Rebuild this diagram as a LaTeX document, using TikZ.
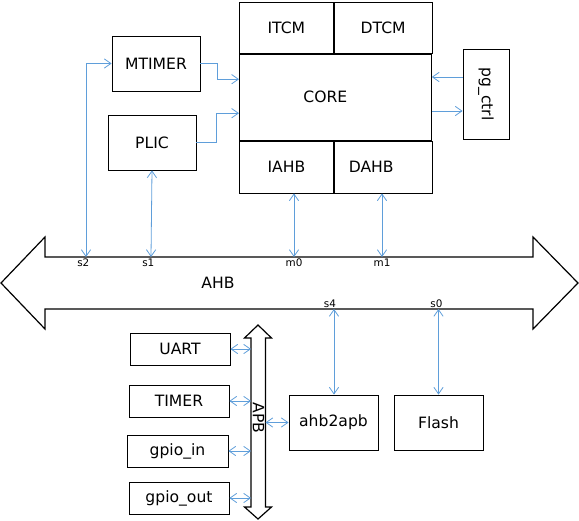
\documentclass[tikz,border=0pt]{standalone}
\usepackage{fontspec}
\setmainfont{DejaVu Sans}
\usetikzlibrary{arrows.meta,positioning}
\definecolor{linkblue}{RGB}{95,158,218}

\begin{document}
\begin{tikzpicture}
	[x=0.75pt, y=-0.75pt,
		>={Straight Barb[length=5pt,width=7pt]},
		blockbox/.style={rectangle, draw=black, line width=0.6pt, inner sep=0pt, font=\fontsize{11.7}{14}\selectfont},
		iobox/.style={blockbox, minimum width=75pt, minimum height=24pt},
		periphbox/.style={blockbox, minimum width=66.75pt, minimum height=41.25pt},
		link/.style={draw=linkblue, line width=0.6pt},
		busline/.style={draw=black, line width=0.9pt, line join=miter},
		portlabel/.style={inner sep=1pt, font=\fontsize{7.8}{9}\selectfont},
		buslabel/.style={font=\fontsize{11.7}{14}\selectfont},
	]
	\useasboundingbox (0,0) rectangle (579,521);

	% core block
	\node[blockbox, minimum width=70.5pt, minimum height=38.25pt, anchor=north west] (itcm) at (239,2) {ITCM};
	\node[blockbox, minimum width=73.5pt, minimum height=38.25pt, right=0pt of itcm] (dtcm) {DTCM};
	\node[blockbox, minimum width=144pt, minimum height=64.5pt, anchor=north west] (core) at (itcm.south west) {};
	\node[buslabel] (coretext) at ([xshift=-7.5pt]core.center) {CORE};
	\node[blockbox, minimum width=70.5pt, minimum height=39pt, anchor=north west] (iahb) at (core.south west) {IAHB};
	\node[blockbox, minimum width=73.5pt, minimum height=39pt, right=0pt of iahb] (dahb) {};
	\node[buslabel] (dahbtext) at ([xshift=-9pt]dahb.center) {DAHB};
	\draw[line width=1.5pt] (core.south west) -- (core.south east);

	\node[blockbox, minimum width=66pt, minimum height=41.25pt] (mtimer) at (156,63.5) {MTIMER};
	\node[blockbox, minimum width=66pt, minimum height=41.25pt] (plic) at (152,142.5) {PLIC};
	\node[blockbox, minimum width=34.5pt, minimum height=67.5pt] (pgctrl) at (486,94) {\rotatebox{-90}{pg\_ctrl}};

	% AHB bus
	\draw[busline] (1,283) -- (45,237) -- (45,257) -- (533,257) -- (533,237) -- (578,283)
		-- (533,329) -- (533,309) -- (45,309) -- (45,329) -- cycle;
	\node[buslabel] (ahbtext) at (218,283) {AHB};

	\coordinate (s2port) at (86,257);
	\coordinate (s1port) at (151,257);
	\coordinate (m0port) at (294,257);
	\coordinate (m1port) at (382,257);
	\coordinate (s4port) at (334,309);
	\coordinate (s0port) at (438.5,309);

	\node[portlabel, below] (s2text) at ([xshift=-2pt]s2port) {s2};
	\node[portlabel, below] (s1text) at ([xshift=-2pt]s1port) {s1};
	\node[portlabel, below] (m0text) at (m0port) {m0};
	\node[portlabel, below] (m1text) at (m1port) {m1};
	\node[portlabel, above] (s4text) at ([xshift=-3pt]s4port) {s4};
	\node[portlabel, above] (s0text) at ([xshift=-1.5pt]s0port) {s0};

	% peripherals
	\node[periphbox] (ahbapb) at (333.5,422.5) {ahb2apb};
	\node[periphbox] (flash) at (438.5,422.5) {Flash};

	\node[iobox] (uart) at (180,349) {UART};
	\node[iobox] (timer) at (179,401) {TIMER};
	\node[iobox, minimum width=75.75pt] (gpioin) at (177.5,451) {gpio\_in};
	\node[iobox] (gpioout) at (179,498) {gpio\_out};

	% APB bus
	\draw[busline] (258,325) -- (271.5,338) -- (265.5,338) -- (265.5,507) -- (271.5,507) -- (258,519)
		-- (244.5,507) -- (251,507) -- (251,338) -- (244.5,338) -- cycle;
	\node[buslabel] (apbtext) at (258.5,418) {\rotatebox{-90}{APB}};
	\coordinate (apbleft) at (251,420);
	\coordinate (apbright) at (265.5,420);

	% connectors
	\draw[link,<->] (s2port) |- (mtimer.west);
	\draw[link,<->] (plic.south) -- (s1port);
	\draw[link,<->] (iahb.south -| m0port) -- (m0port);
	\draw[link,<->] (dahb.south -| m1port) -- (m1port);
	\draw[link,->] (mtimer.east) -- ++(17,0) |- ([yshift=13.5pt]core.west);
	\draw[link,->] (plic.east) -- ++(20,0) |- ([yshift=-12pt]core.west);

	\coordinate (pgin) at ([yshift=12.75pt]pgctrl.west);
	\coordinate (pgout) at ([yshift=-12.75pt]pgctrl.west);
	\draw[link,->] (pgin) -- (core.east |- pgin);
	\draw[link,->] (core.east |- pgout) -- (pgout);

	\draw[link,<->] (s4port) -- (ahbapb.north -| s4port);
	\draw[link,<->] (s0port) -- (flash.north);

	\draw[link,<->] (uart.east) -- (uart.east -| apbleft);
	\draw[link,<->] (timer.east) -- (timer.east -| apbleft);
	\draw[link,<->] (gpioin.east) -- (gpioin.east -| apbleft);
	\draw[link,<->] (gpioout.east) -- (gpioout.east -| apbleft);
	\draw[link,<->] (apbright |- ahbapb.west) -- (ahbapb.west);

\end{tikzpicture}
\end{document}
